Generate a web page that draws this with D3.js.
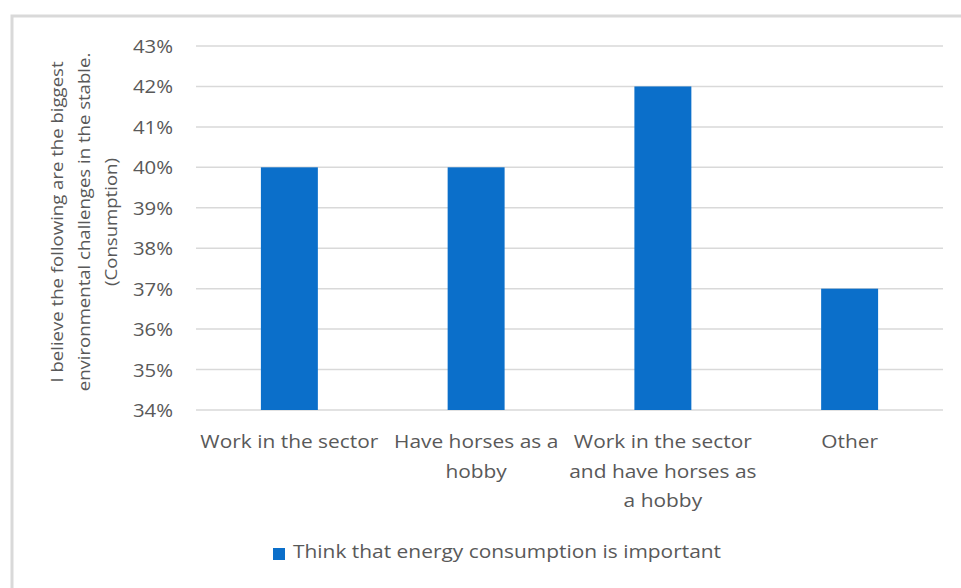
<!DOCTYPE html>
<html lang="en">
<head>
    <meta charset="UTF-8">
    <title>Energy consumption bar chart</title>
    <script src="https://d3js.org/d3.v7.min.js"></script>
    <style>
        body { margin: 0; background: #fff; }
        svg text { font-family: "Open Sans", sans-serif; fill: #595959; }
        .grid line { stroke: #d9d9d9; stroke-width: 1.5px; }
    </style>
</head>
<body>
    <svg id="chart" width="961" height="588"></svg>
    <script>
        // data
        const categories = [
            ["Work in the sector"],
            ["Have horses as a", "hobby"],
            ["Work in the sector", "and have horses as", "a hobby"],
            ["Other"]
        ];
        const values = [0.40, 0.40, 0.42, 0.37];
        const yTicks = [0.34, 0.35, 0.36, 0.37, 0.38, 0.39, 0.40, 0.41, 0.42, 0.43];
        const seriesName = "Think that energy consumption is important";
        const yTitle = [
            "I believe the following are the biggest",
            "environmental challenges in the stable.",
            "(Consumption)"
        ];

        const svg = d3.select("#chart");
        const plot = {left: 196, right: 943, top: 46, bottom: 410};

        // the source font is wider than Open Sans, stretch glyphs a bit
        function stretch(sel, k) {
            sel.each(function() {
                const len = this.getComputedTextLength();
                d3.select(this)
                    .attr("textLength", len * k)
                    .attr("lengthAdjust", "spacingAndGlyphs");
            });
        }

        // frame
        svg.append("path")
            .attr("d", "M12,588 V16 H961")
            .attr("fill", "none")
            .attr("stroke", "#d9d9d9")
            .attr("stroke-width", 3);

        const x = d3.scaleBand()
            .domain(d3.range(categories.length))
            .range([plot.left, plot.right])
            .paddingInner(0.695)
            .paddingOuter(0.3475);

        const y = d3.scaleLinear()
            .domain([0.34, 0.43])
            .range([plot.bottom, plot.top]);

        // gridlines
        svg.append("g").attr("class", "grid")
            .selectAll("line")
            .data(yTicks)
            .enter().append("line")
            .attr("x1", plot.left)
            .attr("x2", plot.right)
            .attr("y1", d => y(d))
            .attr("y2", d => y(d));

        // y axis labels
        const yAxis = svg.append("g")
            .attr("transform", `translate(${plot.left - 23},0)`)
            .call(d3.axisLeft(y).tickValues(yTicks).tickFormat(d3.format(".0%")).tickSize(0));
        yAxis.select(".domain").remove();
        yAxis.selectAll("text")
            .attr("x", 0)
            .attr("dy", "0.34em")
            .style("font-size", "19px")
            .style("font-family", "Open Sans, sans-serif")
            .attr("fill", "#595959")
            .call(stretch, 1.07);

        // bars
        svg.selectAll(".bar")
            .data(values)
            .enter().append("rect")
            .attr("class", "bar")
            .attr("x", (d, i) => x(i))
            .attr("width", x.bandwidth())
            .attr("y", d => y(d))
            .attr("height", d => y(0.34) - y(d))
            .attr("fill", "#0b6fca");

        // category labels
        const cat = svg.selectAll(".cat")
            .data(categories)
            .enter().append("text")
            .attr("class", "cat")
            .attr("text-anchor", "middle")
            .style("font-size", "19px");
        cat.selectAll("tspan")
            .data((d, i) => d.map(t => ({t, i})))
            .enter().append("tspan")
            .attr("x", d => x(d.i) + x.bandwidth() / 2)
            .attr("y", (d, j) => 448 + j * 29.5)
            .text(d => d.t)
            .call(stretch, 1.1);

        // y title
        const yt = svg.append("text")
            .attr("transform", "translate(0,222) rotate(-90)")
            .attr("text-anchor", "middle")
            .style("font-size", "16px");
        yt.selectAll("tspan")
            .data(yTitle)
            .enter().append("tspan")
            .attr("x", 0)
            .attr("y", (d, i) => 63 + i * 27)
            .text(d => d)
            .call(stretch, 1.16);

        // legend
        svg.append("rect")
            .attr("x", 273).attr("y", 548)
            .attr("width", 12).attr("height", 12)
            .attr("fill", "#0b6fca");
        svg.append("text")
            .attr("x", 293).attr("y", 558)
            .style("font-size", "19px")
            .text(seriesName)
            .call(stretch, 1.1);
    </script>
</body>
</html>
